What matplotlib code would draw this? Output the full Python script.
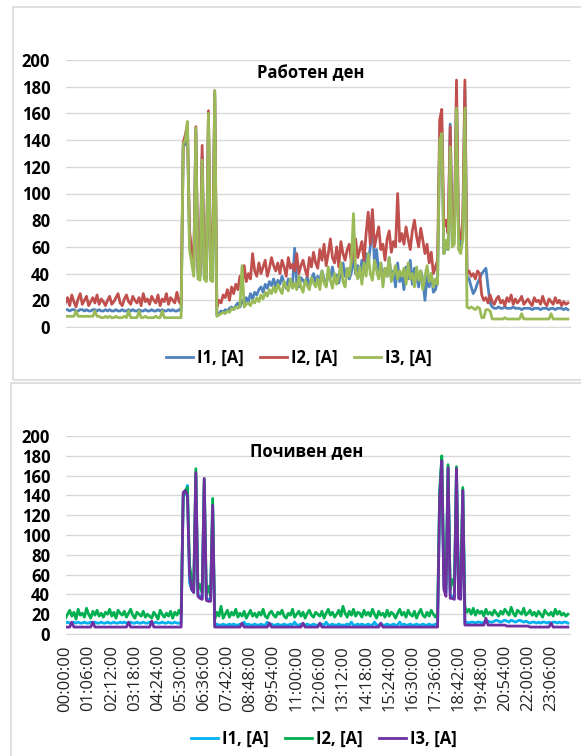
import numpy as np
import matplotlib
matplotlib.use("Agg")
import matplotlib.pyplot as plt
from matplotlib.patches import Rectangle

plt.rcParams['font.family'] = ['Open Sans', 'DejaVu Sans']

# -----------------------------
# Data (one reading every 6 minutes, 240 per day)
# -----------------------------
minutes = np.arange(0, 1440, 6)

tick_minutes = [0, 66, 132, 198, 264, 330, 396, 462, 528, 594, 660,
                726, 792, 858, 924, 990, 1056, 1122, 1188, 1254, 1320, 1386]
tick_labels = ["00:00:00", "01:06:00", "02:12:00", "03:18:00", "04:24:00",
               "05:30:00", "06:36:00", "07:42:00", "08:48:00", "09:54:00",
               "11:00:00", "12:06:00", "13:12:00", "14:18:00", "15:24:00",
               "16:30:00", "17:36:00", "18:42:00", "19:48:00", "20:54:00",
               "22:00:00", "23:06:00"]

series_names = ["I1, [A]", "I2, [A]", "I3, [A]"]

# working day
work_i1 = [
    13, 13, 12, 13, 13, 12, 12, 13, 13, 12, 13, 12, 12, 13, 13, 12, 13, 12, 12, 13,
    12, 13, 12, 12, 13, 12, 12, 13, 12, 12, 13, 12, 13, 12, 12, 13, 12, 12, 13, 12,
    12, 13, 12, 12, 13, 12, 13, 12, 12, 13, 12, 13, 12, 12, 13, 12, 135, 137, 150, 62,
    52, 42, 146, 40, 38, 128, 38, 36, 158, 36, 35, 174, 9, 10, 12, 11, 13, 12, 14, 15,
    13, 16, 18, 15, 20, 17, 22, 19, 25, 21, 26, 24, 28, 30, 26, 32, 29, 34, 31, 36,
    30, 35, 32, 38, 33, 29, 36, 34, 31, 59, 33, 30, 37, 35, 32, 38, 30, 36, 40, 33,
    38, 34, 42, 36, 31, 40, 37, 45, 35, 39, 33, 42, 48, 38, 44, 36, 41, 52, 40, 46,
    38, 50, 43, 55, 47, 60, 87, 45, 58, 40, 48, 35, 44, 38, 52, 36, 42, 30, 48, 34,
    40, 28, 45, 36, 50, 32, 44, 38, 30, 42, 35, 20, 38, 30, 40, 26, 28, 35, 140, 150,
    55, 60, 58, 152, 62, 70, 175, 65, 60, 72, 178, 38, 36, 30, 25, 28, 33, 36, 40, 42,
    44, 30, 18, 15, 14, 14, 15, 14, 14, 15, 14, 14, 14, 15, 14, 14, 14, 13, 14, 14,
    14, 14, 13, 14, 14, 14, 13, 14, 14, 14, 13, 14, 14, 13, 14, 14, 14, 13, 14, 13,
]
work_i2 = [
    18, 22, 16, 24, 19, 15, 21, 25, 17, 20, 23, 16, 19, 22, 18, 24, 17, 21, 19, 16,
    20, 23, 17, 19, 22, 25, 18, 16, 21, 24, 19, 17, 23, 20, 18, 22, 16, 25, 19, 21,
    17, 23, 20, 18, 24, 16, 21, 19, 25, 17, 22, 20, 18, 26, 19, 17, 138, 144, 152, 72,
    58, 45, 150, 42, 40, 136, 44, 40, 162, 40, 58, 177, 15, 20, 18, 24, 22, 28, 20, 30,
    25, 32, 28, 38, 30, 46, 34, 40, 36, 55, 42, 38, 48, 40, 45, 50, 38, 44, 52, 46,
    42, 48, 40, 50, 45, 38, 52, 44, 47, 42, 55, 40, 46, 50, 43, 38, 52, 45, 56, 48,
    44, 58, 50, 62, 46, 55, 66, 52, 48, 60, 45, 64, 55, 50, 58, 62, 48, 56, 66, 52,
    58, 64, 50, 70, 86, 62, 88, 60, 68, 75, 58, 62, 50, 66, 72, 56, 64, 60, 100, 64,
    70, 62, 75, 66, 58, 72, 80, 68, 60, 74, 65, 55, 62, 48, 56, 40, 45, 50, 155, 163,
    75, 80, 70, 150, 72, 68, 185, 70, 66, 80, 185, 40, 42, 38, 40, 36, 42, 40, 24, 20,
    22, 18, 24, 19, 17, 21, 23, 18, 20, 16, 22, 19, 24, 17, 21, 18, 20, 23, 17, 19,
    21, 18, 16, 22, 19, 20, 17, 23, 18, 16, 21, 19, 17, 22, 18, 20, 16, 19, 17, 18,
]
work_i3 = [
    8, 8, 8, 8, 8, 12, 8, 8, 8, 8, 8, 8, 8, 8, 12, 8, 8, 7, 7, 8,
    7, 8, 7, 7, 8, 7, 7, 7, 8, 7, 12, 7, 7, 7, 7, 12, 7, 7, 8, 7,
    7, 7, 7, 8, 7, 7, 12, 7, 7, 7, 7, 7, 7, 7, 7, 7, 137, 140, 154, 58,
    48, 38, 149, 36, 35, 125, 36, 34, 160, 35, 34, 177, 8, 9, 10, 11, 10, 12, 11, 14,
    13, 15, 14, 16, 46, 15, 17, 18, 16, 20, 18, 22, 19, 24, 21, 26, 23, 28, 25, 30,
    26, 32, 28, 25, 34, 30, 27, 36, 29, 33, 28, 38, 30, 26, 35, 31, 28, 37, 33, 30,
    36, 28, 42, 33, 30, 45, 35, 29, 40, 32, 38, 48, 34, 30, 44, 38, 50, 85, 42, 36,
    45, 32, 48, 38, 55, 40, 35, 50, 42, 36, 48, 30, 44, 38, 52, 34, 40, 46, 36, 42,
    38, 44, 32, 48, 36, 40, 30, 45, 35, 42, 28, 38, 46, 34, 40, 30, 36, 32, 140, 145,
    55, 65, 58, 135, 60, 62, 164, 58, 55, 66, 164, 15, 14, 15, 14, 13, 15, 14, 7, 7,
    13, 13, 12, 6, 6, 6, 6, 6, 6, 7, 6, 6, 6, 6, 6, 6, 6, 10, 6, 6,
    6, 6, 6, 6, 6, 6, 6, 6, 6, 6, 6, 10, 6, 6, 6, 6, 6, 6, 6, 6,
]

# day off
rest_i1 = [
    11, 12, 11, 11, 12, 11, 12, 11, 11, 12, 11, 11, 12, 11, 12, 11, 11, 12, 11, 11,
    12, 11, 11, 12, 11, 11, 12, 11, 12, 11, 11, 12, 11, 11, 12, 11, 11, 12, 11, 11,
    12, 11, 11, 12, 11, 11, 12, 11, 11, 12, 11, 11, 12, 11, 11, 11, 138, 142, 150, 52,
    45, 42, 160, 40, 38, 36, 152, 36, 35, 34, 128, 8, 10, 9, 9, 10, 9, 9, 10, 9,
    10, 9, 9, 10, 9, 12, 9, 10, 9, 9, 10, 9, 9, 10, 9, 9, 12, 9, 10, 9,
    9, 10, 9, 9, 10, 9, 9, 10, 9, 12, 9, 9, 10, 9, 9, 10, 9, 9, 10, 9,
    9, 9, 10, 9, 12, 9, 9, 10, 9, 9, 10, 9, 9, 9, 10, 9, 12, 9, 9, 10,
    9, 10, 9, 9, 10, 9, 9, 12, 9, 9, 10, 9, 9, 10, 9, 9, 10, 9, 9, 12,
    9, 10, 9, 9, 10, 9, 9, 10, 9, 9, 10, 9, 9, 10, 9, 9, 10, 9, 140, 176,
    48, 42, 168, 40, 38, 37, 166, 38, 36, 145, 11, 12, 11, 12, 12, 11, 12, 12, 11, 12,
    12, 13, 12, 12, 13, 14, 13, 12, 13, 14, 13, 12, 14, 13, 12, 13, 14, 13, 12, 13,
    12, 11, 12, 12, 11, 12, 11, 12, 12, 11, 12, 11, 12, 12, 11, 12, 11, 12, 12, 11,
]
rest_i2 = [
    16, 20, 24, 18, 22, 15, 25, 19, 21, 17, 26, 20, 16, 23, 19, 24, 18, 21, 17, 22,
    20, 25, 18, 22, 16, 24, 21, 19, 23, 17, 21, 25, 19, 16, 22, 20, 18, 23, 17, 20,
    18, 16, 22, 19, 15, 24, 20, 17, 21, 18, 23, 16, 22, 19, 24, 20, 140, 145, 148, 70,
    55, 48, 167, 45, 50, 42, 157, 40, 48, 38, 137, 15, 22, 18, 28, 16, 20, 24, 17, 22,
    19, 25, 17, 21, 18, 23, 16, 20, 24, 18, 21, 17, 22, 19, 25, 18, 16, 21, 23, 19,
    17, 22, 20, 24, 18, 16, 21, 19, 25, 17, 20, 23, 18, 22, 16, 21, 24, 19, 17, 22,
    20, 18, 23, 16, 21, 25, 19, 22, 17, 20, 24, 18, 28, 21, 17, 23, 19, 25, 18, 22,
    21, 17, 24, 19, 22, 18, 25, 20, 16, 23, 19, 21, 17, 24, 18, 22, 20, 16, 21, 25,
    19, 22, 17, 24, 20, 18, 23, 16, 21, 25, 19, 17, 22, 18, 24, 20, 17, 21, 145, 180,
    62, 50, 171, 45, 55, 48, 169, 42, 52, 148, 28, 22, 25, 20, 26, 19, 24, 21, 23, 18,
    25, 20, 22, 19, 24, 21, 18, 23, 20, 25, 22, 19, 27, 21, 18, 24, 22, 20, 26, 19,
    21, 24, 19, 22, 18, 23, 20, 17, 24, 21, 19, 22, 18, 25, 20, 23, 19, 21, 18, 20,
]
rest_i3 = [
    7, 7, 7, 12, 7, 7, 7, 7, 7, 7, 7, 7, 7, 12, 7, 7, 7, 7, 7, 7,
    7, 7, 7, 7, 7, 7, 7, 7, 7, 7, 12, 7, 7, 7, 7, 7, 7, 7, 7, 7,
    7, 13, 7, 7, 7, 7, 7, 7, 7, 7, 7, 7, 7, 7, 7, 7, 143, 145, 140, 60,
    45, 42, 163, 38, 36, 35, 157, 34, 33, 33, 130, 7, 7, 7, 7, 7, 7, 7, 7, 7,
    7, 7, 7, 7, 11, 7, 7, 7, 7, 7, 7, 7, 7, 7, 7, 7, 7, 11, 7, 7,
    7, 7, 7, 7, 7, 7, 7, 7, 7, 7, 7, 7, 7, 11, 7, 7, 7, 7, 7, 7,
    7, 11, 7, 7, 7, 7, 7, 7, 7, 7, 7, 7, 7, 7, 7, 7, 7, 7, 7, 7,
    7, 7, 7, 7, 7, 7, 7, 7, 7, 7, 11, 7, 7, 7, 7, 7, 7, 7, 7, 7,
    7, 7, 7, 7, 7, 7, 7, 7, 7, 7, 7, 7, 7, 7, 7, 7, 7, 7, 137, 175,
    45, 38, 168, 36, 36, 35, 167, 36, 35, 145, 9, 9, 9, 9, 9, 9, 9, 9, 9, 9,
    16, 9, 9, 9, 9, 9, 9, 9, 9, 9, 8, 8, 8, 8, 8, 8, 8, 8, 8, 8,
    8, 7, 7, 7, 7, 7, 7, 7, 7, 7, 7, 11, 7, 7, 7, 7, 7, 7, 7, 7,
]

work_colors = ["#4F81BD", "#C0504D", "#9BBB59"]
rest_colors = ["#00B0F0", "#00B050", "#7030A0"]

# -----------------------------
# Figure
# -----------------------------
W, H = 581, 756
fig = plt.figure(figsize=(W / 100, H / 100), dpi=100)

# panel borders (Excel chart areas)
fig.add_artist(Rectangle((13 / W, 1 - 380 / H), 1, 373 / H, transform=fig.transFigure,
                         fill=False, edgecolor="#D9D9D9", lw=1.2))
fig.add_artist(Rectangle((11 / W, 1 - 770 / H), 1, 387 / H, transform=fig.transFigure,
                         fill=False, edgecolor="#D9D9D9", lw=1.2))


def draw_panel(ax, series, colors, title, title_xy, legend_xy, show_times):
    lines = []
    for values, color, name in zip(series, colors, series_names):
        ln, = ax.plot(minutes, values, color=color, lw=2.0, label=name)
        lines.append(ln)
    ax.set_xlim(0, 1440)
    ax.set_ylim(0, 200)
    ax.set_yticks(range(0, 201, 20))
    ax.grid(axis="y", color="#D9D9D9", lw=1.0)
    ax.set_axisbelow(True)
    for side in ["top", "right", "left"]:
        ax.spines[side].set_visible(False)
    ax.spines["bottom"].set_color("#D9D9D9")
    ax.tick_params(axis="y", length=0, pad=11, labelsize=12)
    for lab in ax.get_yticklabels():
        lab.set_fontweight("bold")
    if show_times:
        ax.set_xticks(tick_minutes)
        ax.set_xticklabels(tick_labels, rotation=90, fontsize=12)
        ax.tick_params(axis="x", length=0, pad=8, colors="#222222")
    else:
        ax.set_xticks([])
    fig.text(title_xy[0] / W, 1 - title_xy[1] / H, title, ha="center", va="center",
             fontsize=12, fontweight="bold")
    fig.legend(handles=lines, loc="center", bbox_to_anchor=(legend_xy[0] / W, 1 - legend_xy[1] / H),
               ncol=3, frameon=False, handlelength=1.6, handletextpad=0.25,
               columnspacing=1.0, prop={"weight": "bold", "size": 12})


ax_top = fig.add_axes([65.5 / W, 1 - 327 / H, 504.5 / W, 267 / H])
draw_panel(ax_top, [work_i1, work_i2, work_i3], work_colors, "Работен ден",
           (311, 73), (299, 358), False)

ax_bot = fig.add_axes([65.5 / W, 1 - 634 / H, 504.5 / W, 198 / H])
draw_panel(ax_bot, [rest_i1, rest_i2, rest_i3], rest_colors, "Почивен ден",
           (307, 451), (324, 739), True)

plt.savefig("out.png", dpi=100)
